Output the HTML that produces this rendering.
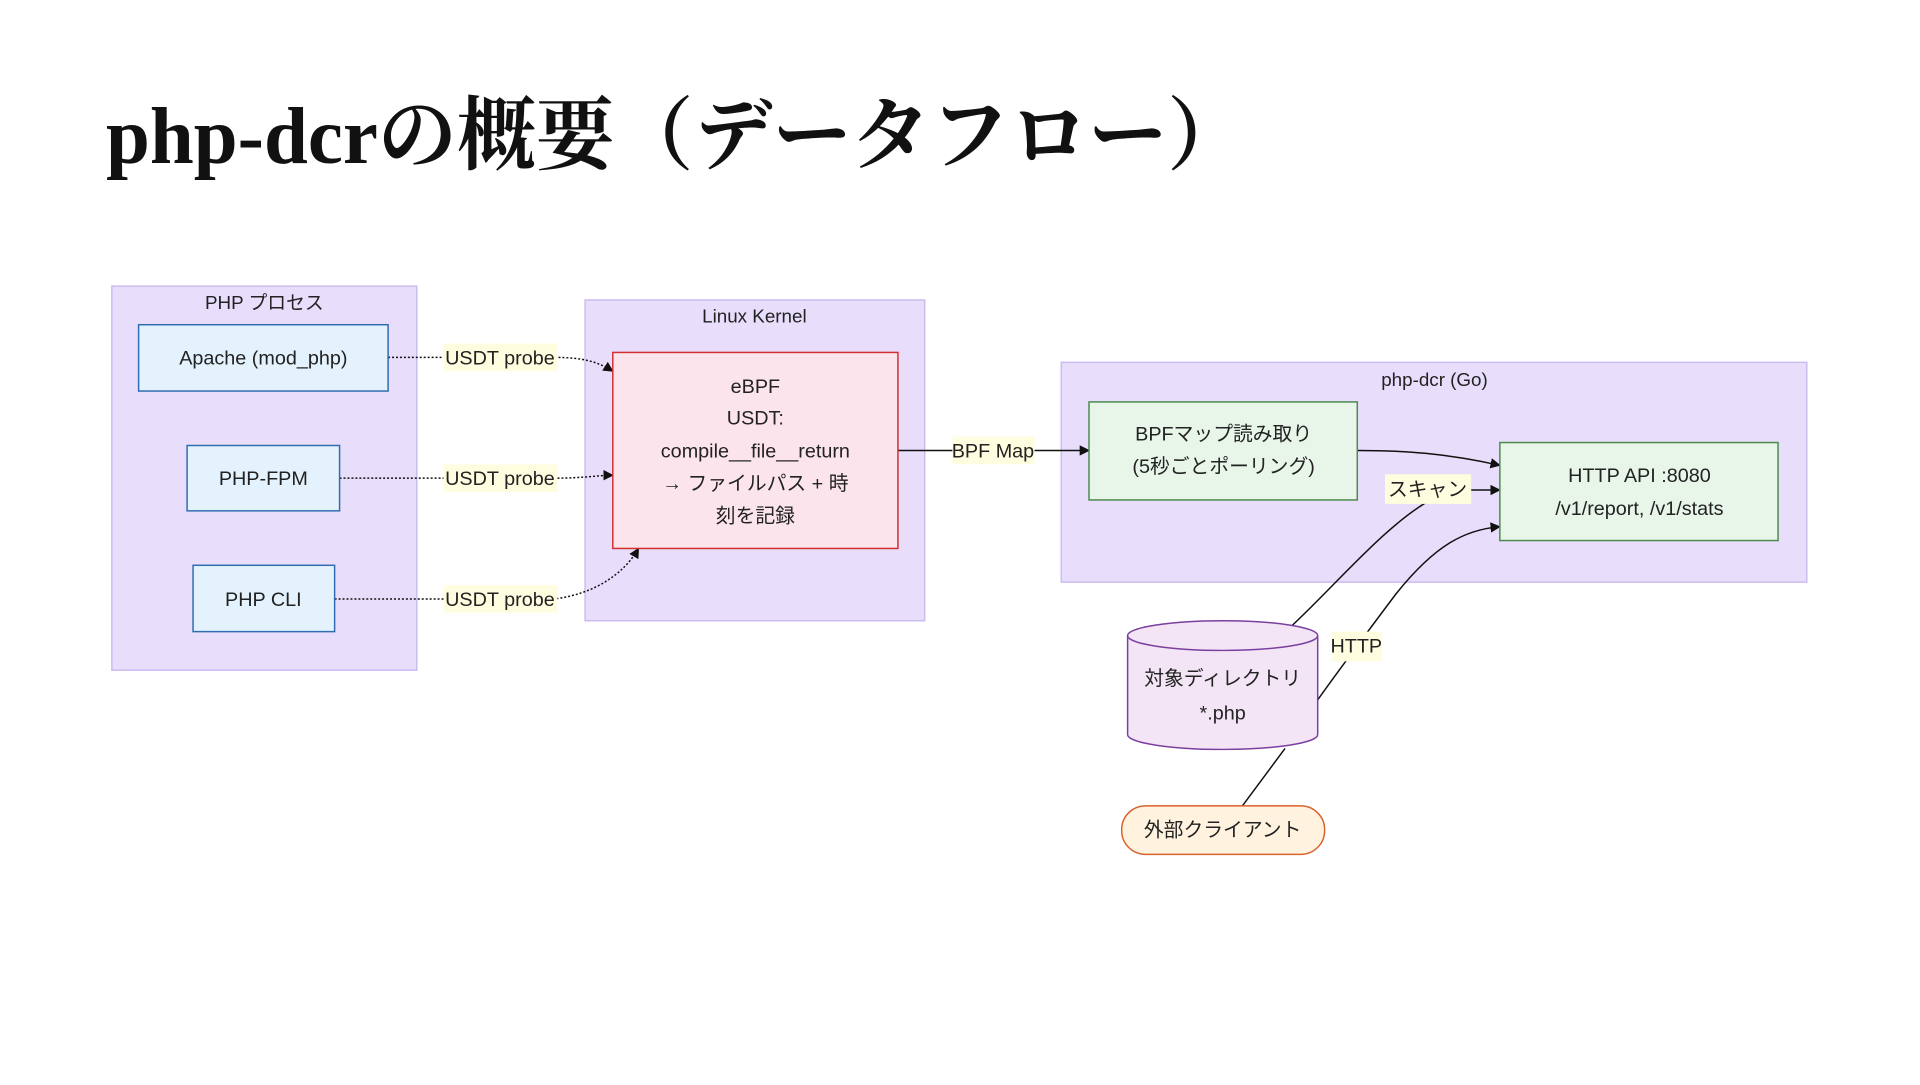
<!DOCTYPE html>
<html><head><meta charset="utf-8"><style>
body{margin:0;width:1920px;height:1080px;background:#fff;overflow:hidden;font-family:"Liberation Sans","Noto Sans CJK JP",sans-serif;}
</style></head><body>
<svg width="1920" height="1080" viewBox="0 0 1920 1080" xmlns="http://www.w3.org/2000/svg" font-family="Liberation Sans, Noto Sans CJK JP, sans-serif">
<defs>
<marker id="a" viewBox="0 0 10 10" refX="9" refY="5" markerWidth="7" markerHeight="7" orient="auto"><path d="M0,0L10,5L0,10z" fill="#111"/></marker>
</defs>
<text x="106" y="163" font-family="Liberation Serif, Noto Serif CJK SC, serif" font-weight="bold" font-size="80" fill="#111" textLength="1140" lengthAdjust="spacingAndGlyphs">php-dcrの概要（データフロー）</text>

<g transform="scale(0.99)">
<!-- groups -->
<rect x="113" y="289" width="308" height="388" fill="#e8defc" stroke="#cbbcef" stroke-width="1.5"/>
<text x="267" y="312" text-anchor="middle" font-size="19" fill="#222">PHP プロセス</text>
<rect x="591" y="303" width="343" height="324" fill="#e8defc" stroke="#cbbcef" stroke-width="1.5"/>
<text x="762" y="326" text-anchor="middle" font-size="19" fill="#222">Linux Kernel</text>
<rect x="1072" y="366" width="753" height="222" fill="#e8defc" stroke="#cbbcef" stroke-width="1.5"/>
<text x="1449" y="390" text-anchor="middle" font-size="19" fill="#222">php-dcr (Go)</text>

<!-- edges -->
<g fill="none" stroke="#111" stroke-width="1.5">
<path d="M392,361 L560,361 C590,361 605,366 619,375" stroke-dasharray="2,2" marker-end="url(#a)"/>
<path d="M343,483 L560,483 C590,483 605,480 619,480" stroke-dasharray="2,2" marker-end="url(#a)"/>
<path d="M338,605 L560,605 C600,600 630,580 645,554" stroke-dasharray="2,2" marker-end="url(#a)"/>
<path d="M907,455 L1100,455" marker-end="url(#a)"/>
<path d="M1371,455 C1420,455 1460,458 1515,470" marker-end="url(#a)"/>
<path d="M1305,632 C1350,590 1400,530 1445,505"/>
<path d="M1486,495 L1515,495" marker-end="url(#a)"/>
<path d="M1255,814 L1298,756"/>
<path d="M1331,707 C1350,680 1380,640 1410,600 C1450,550 1480,535 1515,532" marker-end="url(#a)"/>
</g>

<!-- edge labels -->
<g font-size="20" fill="#222" text-anchor="middle">
<rect x="448" y="347" width="115" height="28" fill="#fffde0"/><text x="505" y="368">USDT probe</text>
<rect x="448" y="469" width="115" height="28" fill="#fffde0"/><text x="505" y="490">USDT probe</text>
<rect x="448" y="591" width="115" height="28" fill="#fffde0"/><text x="505" y="612">USDT probe</text>
<rect x="962" y="441" width="83" height="28" fill="#fffde0"/><text x="1003" y="462">BPF Map</text>
<rect x="1399" y="479" width="87" height="30" fill="#fffde0"/><text x="1442" y="501">スキャン</text>
<rect x="1345" y="638" width="51" height="30" fill="#fffde0"/><text x="1370" y="659">HTTP</text>
</g>

<!-- nodes -->
<g font-size="20" fill="#222" text-anchor="middle">
<rect x="140" y="328" width="252" height="67" fill="#e3f2fd" stroke="#2f6db0" stroke-width="1.5"/>
<text x="266" y="368">Apache (mod_php)</text>
<rect x="189" y="450" width="154" height="66" fill="#e3f2fd" stroke="#2f6db0" stroke-width="1.5"/>
<text x="266" y="490">PHP-FPM</text>
<rect x="195" y="571" width="143" height="67" fill="#e3f2fd" stroke="#2f6db0" stroke-width="1.5"/>
<text x="266" y="612">PHP CLI</text>

<rect x="619" y="356" width="288" height="198" fill="#fce4ec" stroke="#d32f2f" stroke-width="1.5"/>
<text x="763" y="397">eBPF</text>
<text x="763" y="429">USDT:</text>
<text x="763" y="462">compile__file__return</text>
<text x="763" y="495">→ ファイルパス + 時</text>
<text x="763" y="528">刻を記録</text>

<rect x="1100" y="406" width="271" height="99" fill="#e8f5e9" stroke="#4b8b4b" stroke-width="1.5"/>
<text x="1236" y="445">BPFマップ読み取り</text>
<text x="1236" y="478">(5秒ごとポーリング)</text>

<rect x="1515" y="447" width="281" height="99" fill="#e8f5e9" stroke="#4b8b4b" stroke-width="1.5"/>
<text x="1656" y="487">HTTP API :8080</text>
<text x="1656" y="520">/v1/report, /v1/stats</text>

<path d="M1139,642 L1139,742 A96,15 0 0 0 1331,742 L1331,642" fill="#f3e5f5" stroke="#7b3fa0" stroke-width="1.5"/>
<ellipse cx="1235" cy="642" rx="96" ry="15" fill="#f3e5f5" stroke="#7b3fa0" stroke-width="1.5"/>
<text x="1235" y="692">対象ディレクトリ</text>
<text x="1235" y="727">*.php</text>

<rect x="1133" y="814" width="205" height="49" rx="24" fill="#fff3e0" stroke="#d9622a" stroke-width="1.5"/>
<text x="1235" y="845">外部クライアント</text>
</g>
</g>
</svg>
</body></html>
